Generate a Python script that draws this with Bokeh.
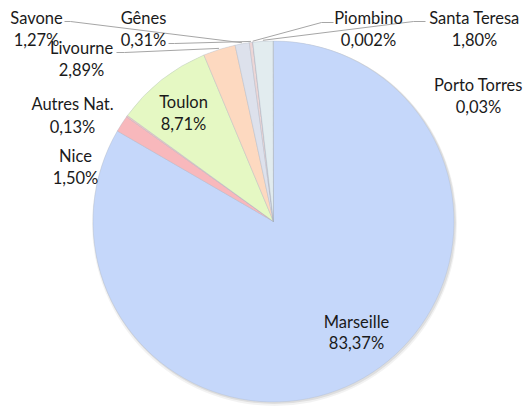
import math
from bokeh.plotting import figure
from bokeh.models import Range1d, ColumnDataSource
from bokeh.embed import file_html
from bokeh.resources import INLINE
from bokeh.core.properties import value

# ---- data ----
ports = ["Marseille", "Nice", "Autres Nat.", "Toulon", "Livourne", "Savone",
         "Gênes", "Piombino", "Santa Teresa", "Porto Torres"]
shares = [83.37, 1.50, 0.13, 8.71, 2.89, 1.27, 0.31, 0.002, 1.80, 0.03]

# ---- styles ----
colors = ["#c5d7fa", "#f8b8bc", "#f3c6c6", "#e5f8c3", "#fdd9c0", "#dde1ec",
          "#ecd6d6", "#e8d8d8", "#e2ecef", "#e6eef0"]

# ---- layout (page pixels) ----
W, H = 528, 407
CX, CY, R = 273, 221, 180.5
label_xy = {
    "Savone": (36, 17, 39),
    "Gênes": (143, 17, 39),
    "Livourne": (81, 47, 69),
    "Autres Nat.": (72, 103, 126),
    "Nice": (75, 155, 177),
    "Toulon": (183, 101, 123),
    "Marseille": (356, 321, 342),
    "Piombino": (368, 17, 39),
    "Santa Teresa": (474, 17, 39),
    "Porto Torres": (478, 84, 106),
}
# leader lines: (label end, bend)
leaders = {
    "Savone": ((64, 21), (70, 21)),
    "Gênes": ((168, 43), (174, 43)),
    "Livourne": ((116, 52), (124, 52)),
    "Piombino": ((333, 22), (321, 22)),
    "Santa Teresa": ((425, 21), (413, 21)),
}


def py(y):
    return 407 - y


p = figure(width=W, height=H, output_backend="svg", toolbar_location=None,
           x_range=Range1d(0, W), y_range=Range1d(407 - H, 407),
           min_border=0)
p.axis.visible = False
p.grid.visible = False
p.outline_line_color = None
p.background_fill_color = "white"

total = sum(shares)
starts, ends, mids = [], [], []
cum = 0.0
for v in shares:
    s = cum / total
    cum += v
    e = cum / total
    starts.append(math.pi / 2 - 2 * math.pi * e)
    ends.append(math.pi / 2 - 2 * math.pi * s)
    mids.append(math.pi / 2 - math.pi * (s + e))

# soft shadow
p.circle(x=[CX + 1], y=[py(CY) - 2], radius=R + 2, fill_color="black",
         fill_alpha=0.05, line_color=None)
p.circle(x=[CX + 1], y=[py(CY) - 1], radius=R + 1, fill_color="black",
         fill_alpha=0.08, line_color=None)

src = ColumnDataSource(dict(start=starts, end=ends, color=colors,
                            x=[CX] * len(ports), y=[py(CY)] * len(ports)))
p.wedge(x="x", y="y", radius=R, start_angle="start", end_angle="end",
        fill_color="color", line_color="#aab3c4", line_alpha=0.45,
        line_width=0.7, source=src)

# leader lines
xs, ys = [], []
for name, (lab, bend) in leaders.items():
    i = ports.index(name)
    ex = CX + (R + 1) * math.cos(mids[i])
    ey = py(CY) + (R + 1) * math.sin(mids[i])
    xs.append([lab[0], bend[0], ex])
    ys.append([py(lab[1]), py(bend[1]), ey])
p.multi_line(xs=xs, ys=ys, line_color="#a6a6a6", line_width=1)


def fmt(v):
    s = f"{v:.3f}" if v < 0.01 else f"{v:.2f}"
    return s.replace(".", ",") + "%"


tx, ty, tt = [], [], []
for name, v in zip(ports, shares):
    x, y1, y2 = label_xy[name]
    tx += [x, x]
    ty += [py(y1), py(y2)]
    tt += [name, fmt(v)]
p.text(x=tx, y=ty, text=tt, text_font=value("Lato"), text_font_size="16.5px",
       text_align="center", text_baseline="middle", text_color="#1a1a1a")

open("out.html", "w").write(file_html(p, INLINE))
